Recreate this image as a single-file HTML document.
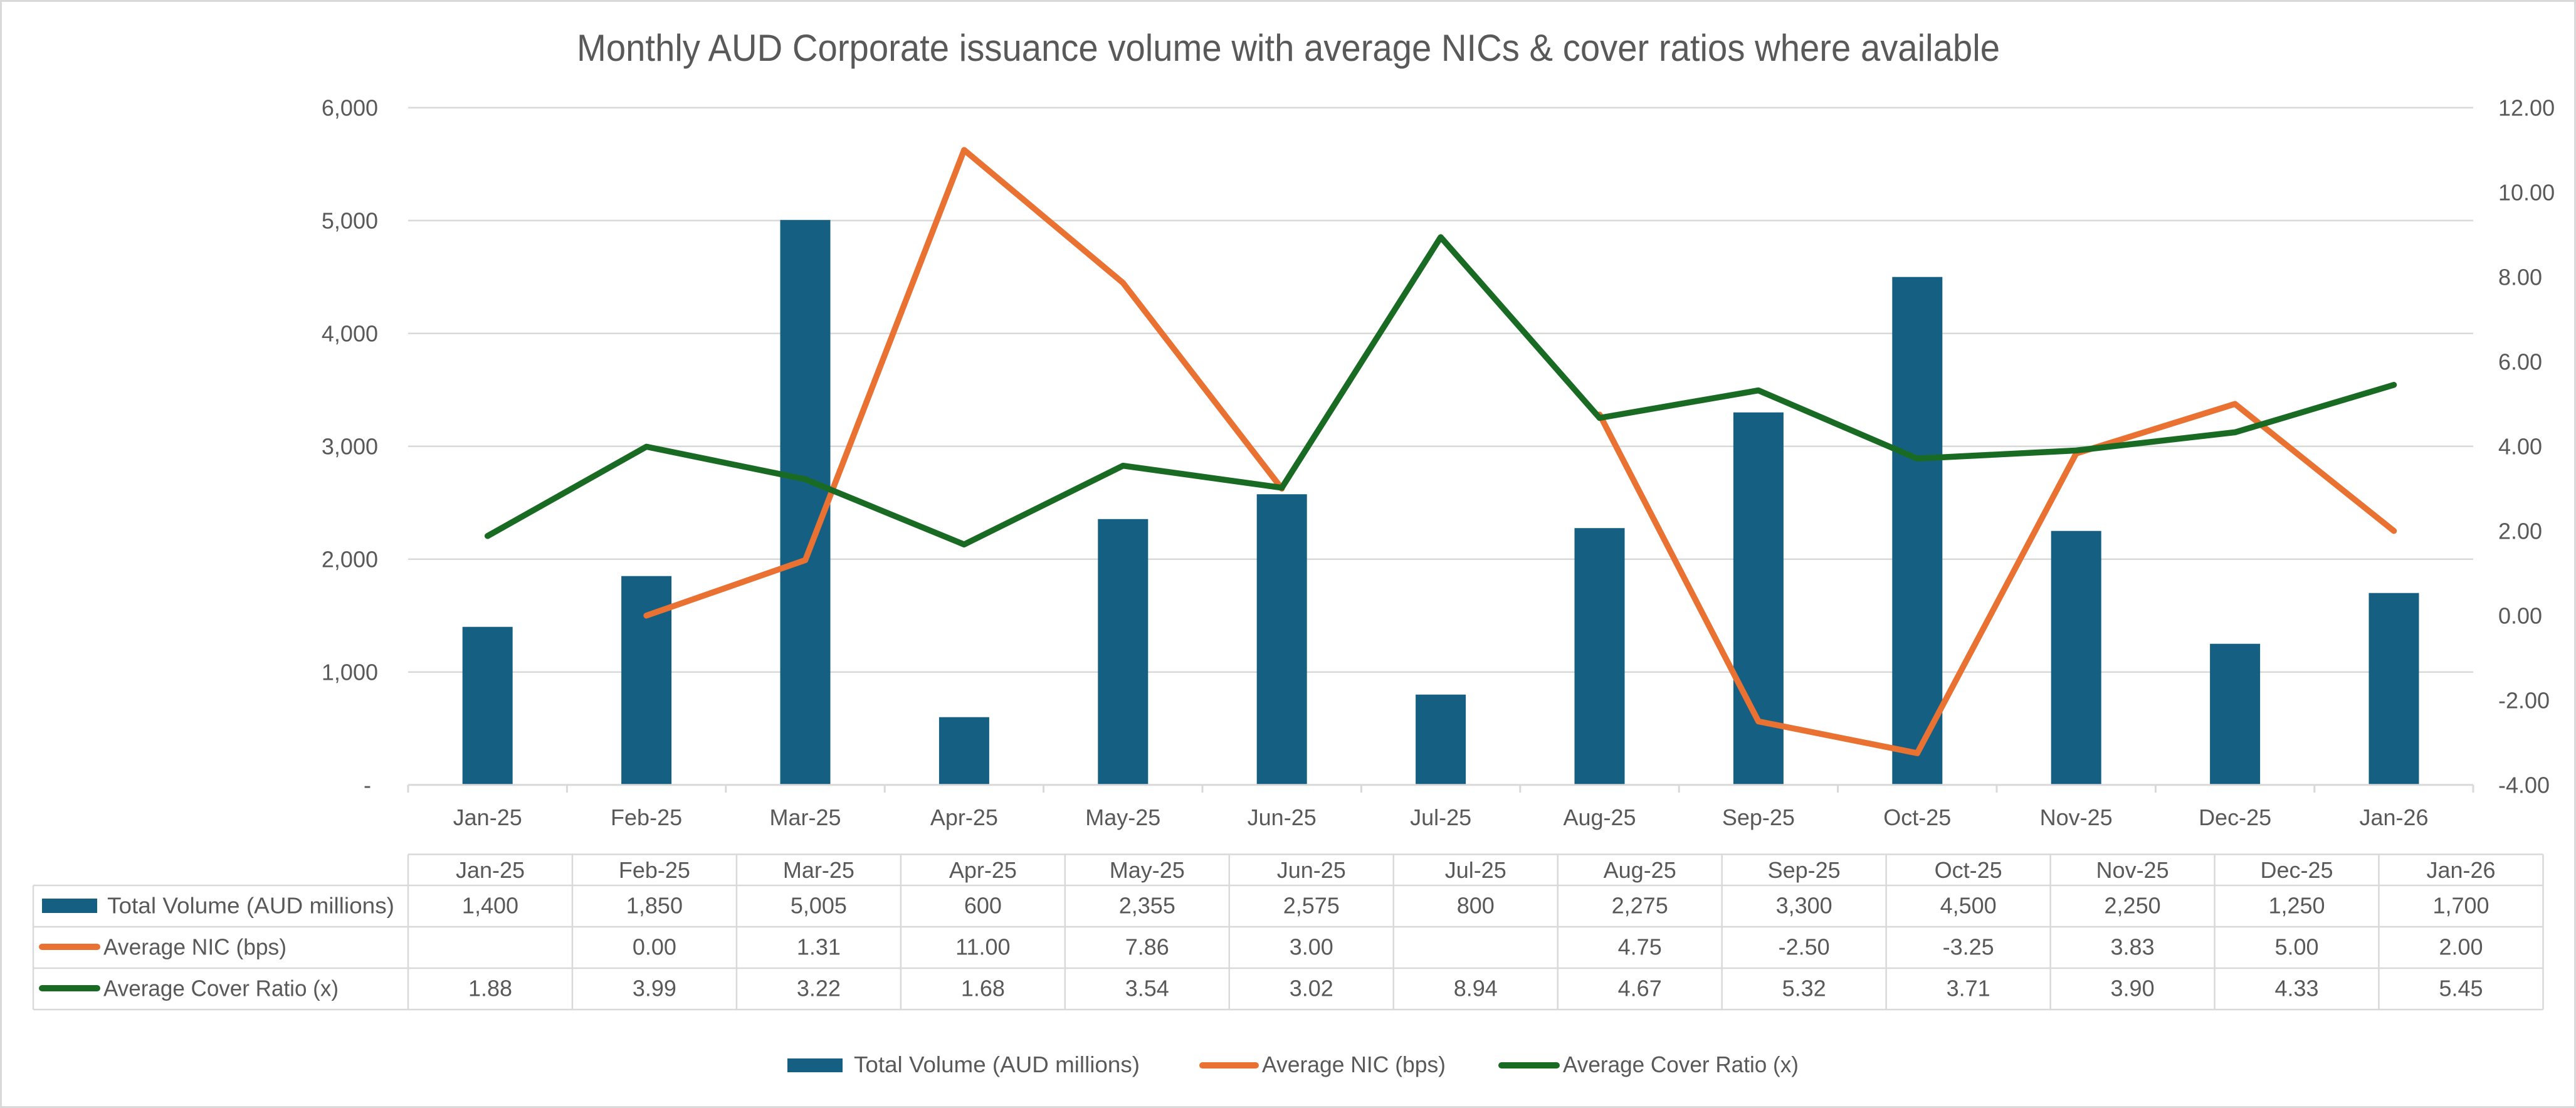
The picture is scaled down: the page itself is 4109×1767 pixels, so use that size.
<!DOCTYPE html>
<html><head><meta charset="utf-8"><style>
html,body{margin:0;padding:0;background:#fff;}
svg{display:block;}
text{font-family:"Liberation Sans",sans-serif;fill:#595959;}
</style></head><body>
<svg width="4109" height="1767" viewBox="0 0 4109 1767" xmlns="http://www.w3.org/2000/svg">
<rect x="1.5" y="1.5" width="4106" height="1764" fill="#fff" stroke="#d9d9d9" stroke-width="3"/>
<text x="2055" y="97" font-size="60" text-anchor="middle" textLength="2270" lengthAdjust="spacingAndGlyphs">Monthly AUD Corporate issuance volume with average NICs &amp; cover ratios where available</text>
<g stroke="#d9d9d9" stroke-width="2.5">
<line x1="651" y1="171.7" x2="3945" y2="171.7"/>
<line x1="651" y1="351.7" x2="3945" y2="351.7"/>
<line x1="651" y1="531.7" x2="3945" y2="531.7"/>
<line x1="651" y1="711.7" x2="3945" y2="711.7"/>
<line x1="651" y1="891.7" x2="3945" y2="891.7"/>
<line x1="651" y1="1071.7" x2="3945" y2="1071.7"/>
</g>
<g font-size="36" text-anchor="end">
<text x="603" y="184.7">6,000</text>
<text x="603" y="364.7">5,000</text>
<text x="603" y="544.7">4,000</text>
<text x="603" y="724.7">3,000</text>
<text x="603" y="904.7">2,000</text>
<text x="603" y="1084.7">1,000</text>
<text x="592" y="1264.7">-</text>
</g>
<g font-size="36">
<text x="3985" y="184.7">12.00</text>
<text x="3985" y="319.7">10.00</text>
<text x="3985" y="454.7">8.00</text>
<text x="3985" y="589.7">6.00</text>
<text x="3985" y="724.7">4.00</text>
<text x="3985" y="859.7">2.00</text>
<text x="3985" y="994.7">0.00</text>
<text x="3985" y="1129.7">-2.00</text>
<text x="3985" y="1264.7">-4.00</text>
</g>
<g fill="#156082">
<rect x="737.7" y="999.7" width="80" height="252"/>
<rect x="991.1" y="918.7" width="80" height="333"/>
<rect x="1244.5" y="350.8" width="80" height="900.9"/>
<rect x="1497.9" y="1143.7" width="80" height="108"/>
<rect x="1751.3" y="827.8" width="80" height="423.9"/>
<rect x="2004.7" y="788.2" width="80" height="463.5"/>
<rect x="2258.1" y="1107.7" width="80" height="144"/>
<rect x="2511.5" y="842.2" width="80" height="409.5"/>
<rect x="2764.9" y="657.7" width="80" height="594"/>
<rect x="3018.3" y="441.7" width="80" height="810"/>
<rect x="3271.7" y="846.7" width="80" height="405"/>
<rect x="3525.1" y="1026.7" width="80" height="225"/>
<rect x="3778.5" y="945.7" width="80" height="306"/>
</g>
<g stroke="#d9d9d9" stroke-width="3">
<line x1="651" y1="1251.7" x2="3945" y2="1251.7"/>
<line x1="651" y1="1251.7" x2="651" y2="1264"/>
<line x1="904.4" y1="1251.7" x2="904.4" y2="1264"/>
<line x1="1157.8" y1="1251.7" x2="1157.8" y2="1264"/>
<line x1="1411.2" y1="1251.7" x2="1411.2" y2="1264"/>
<line x1="1664.6" y1="1251.7" x2="1664.6" y2="1264"/>
<line x1="1918" y1="1251.7" x2="1918" y2="1264"/>
<line x1="2171.4" y1="1251.7" x2="2171.4" y2="1264"/>
<line x1="2424.8" y1="1251.7" x2="2424.8" y2="1264"/>
<line x1="2678.2" y1="1251.7" x2="2678.2" y2="1264"/>
<line x1="2931.6" y1="1251.7" x2="2931.6" y2="1264"/>
<line x1="3185" y1="1251.7" x2="3185" y2="1264"/>
<line x1="3438.4" y1="1251.7" x2="3438.4" y2="1264"/>
<line x1="3691.8" y1="1251.7" x2="3691.8" y2="1264"/>
<line x1="3945" y1="1251.7" x2="3945" y2="1264"/>
</g>
<g fill="none" stroke="#E97132" stroke-width="9.5" stroke-linejoin="round" stroke-linecap="round">
<polyline points="1031.1,981.7 1284.5,893.3 1537.9,239.2 1791.3,451.1 2044.7,779.2"/>
<polyline points="2551.5,661.1 2804.9,1150.5 3058.3,1201.1 3311.7,723.2 3565.1,644.2 3818.5,846.7"/>
</g>
<polyline fill="none" stroke="#196B24" stroke-width="9.5" stroke-linejoin="round" stroke-linecap="round" points="777.7,854.8 1031.1,712.4 1284.5,764.3 1537.9,868.3 1791.3,742.7 2044.7,777.8 2298.1,378.2 2551.5,666.5 2804.9,622.6 3058.3,731.3 3311.7,718.4 3565.1,689.4 3818.5,613.8"/>
<g font-size="36" text-anchor="middle">
<text x="777.7" y="1316">Jan-25</text>
<text x="1031.1" y="1316">Feb-25</text>
<text x="1284.5" y="1316">Mar-25</text>
<text x="1537.9" y="1316">Apr-25</text>
<text x="1791.3" y="1316">May-25</text>
<text x="2044.7" y="1316">Jun-25</text>
<text x="2298.1" y="1316">Jul-25</text>
<text x="2551.5" y="1316">Aug-25</text>
<text x="2804.9" y="1316">Sep-25</text>
<text x="3058.3" y="1316">Oct-25</text>
<text x="3311.7" y="1316">Nov-25</text>
<text x="3565.1" y="1316">Dec-25</text>
<text x="3818.5" y="1316">Jan-26</text>
</g>
<!-- table -->
<g stroke="#d9d9d9" stroke-width="2.5" fill="none">
<line x1="651" y1="1362.5" x2="4056.5" y2="1362.5"/>
<line x1="53" y1="1412" x2="4056.5" y2="1412"/>
<line x1="53" y1="1478" x2="4056.5" y2="1478"/>
<line x1="53" y1="1544" x2="4056.5" y2="1544"/>
<line x1="53" y1="1610" x2="4056.5" y2="1610"/>
<line x1="53" y1="1412" x2="53" y2="1610"/>
<line x1="651" y1="1362.5" x2="651" y2="1610"/>
<line x1="912.96" y1="1362.5" x2="912.96" y2="1610"/>
<line x1="1174.92" y1="1362.5" x2="1174.92" y2="1610"/>
<line x1="1436.88" y1="1362.5" x2="1436.88" y2="1610"/>
<line x1="1698.84" y1="1362.5" x2="1698.84" y2="1610"/>
<line x1="1960.8" y1="1362.5" x2="1960.8" y2="1610"/>
<line x1="2222.76" y1="1362.5" x2="2222.76" y2="1610"/>
<line x1="2484.72" y1="1362.5" x2="2484.72" y2="1610"/>
<line x1="2746.68" y1="1362.5" x2="2746.68" y2="1610"/>
<line x1="3008.64" y1="1362.5" x2="3008.64" y2="1610"/>
<line x1="3270.6" y1="1362.5" x2="3270.6" y2="1610"/>
<line x1="3532.56" y1="1362.5" x2="3532.56" y2="1610"/>
<line x1="3794.52" y1="1362.5" x2="3794.52" y2="1610"/>
<line x1="4056.5" y1="1362.5" x2="4056.5" y2="1610"/>
</g>
<rect x="67" y="1433" width="88" height="23" fill="#156082"/>
<line x1="67" y1="1510" x2="155" y2="1510" stroke="#E97132" stroke-width="10" stroke-linecap="round"/>
<line x1="67" y1="1576" x2="155" y2="1576" stroke="#196B24" stroke-width="10" stroke-linecap="round"/>
<g font-size="36">
<text x="171" y="1456.5" textLength="458" lengthAdjust="spacingAndGlyphs">Total Volume (AUD millions)</text>
<text x="165" y="1522.5" textLength="292" lengthAdjust="spacingAndGlyphs">Average NIC (bps)</text>
<text x="165" y="1588.5" textLength="375" lengthAdjust="spacingAndGlyphs">Average Cover Ratio (x)</text>
</g>
<g font-size="36" text-anchor="middle">
<text x="781.98" y="1400">Jan-25</text><text x="1043.94" y="1400">Feb-25</text><text x="1305.9" y="1400">Mar-25</text><text x="1567.86" y="1400">Apr-25</text><text x="1829.82" y="1400">May-25</text><text x="2091.78" y="1400">Jun-25</text><text x="2353.74" y="1400">Jul-25</text><text x="2615.7" y="1400">Aug-25</text><text x="2877.66" y="1400">Sep-25</text><text x="3139.62" y="1400">Oct-25</text><text x="3401.58" y="1400">Nov-25</text><text x="3663.54" y="1400">Dec-25</text><text x="3925.5" y="1400">Jan-26</text>
<text x="781.98" y="1456.5">1,400</text><text x="1043.94" y="1456.5">1,850</text><text x="1305.9" y="1456.5">5,005</text><text x="1567.86" y="1456.5">600</text><text x="1829.82" y="1456.5">2,355</text><text x="2091.78" y="1456.5">2,575</text><text x="2353.74" y="1456.5">800</text><text x="2615.7" y="1456.5">2,275</text><text x="2877.66" y="1456.5">3,300</text><text x="3139.62" y="1456.5">4,500</text><text x="3401.58" y="1456.5">2,250</text><text x="3663.54" y="1456.5">1,250</text><text x="3925.5" y="1456.5">1,700</text>
<text x="1043.94" y="1522.5">0.00</text><text x="1305.9" y="1522.5">1.31</text><text x="1567.86" y="1522.5">11.00</text><text x="1829.82" y="1522.5">7.86</text><text x="2091.78" y="1522.5">3.00</text><text x="2615.7" y="1522.5">4.75</text><text x="2877.66" y="1522.5">-2.50</text><text x="3139.62" y="1522.5">-3.25</text><text x="3401.58" y="1522.5">3.83</text><text x="3663.54" y="1522.5">5.00</text><text x="3925.5" y="1522.5">2.00</text>
<text x="781.98" y="1588.5">1.88</text><text x="1043.94" y="1588.5">3.99</text><text x="1305.9" y="1588.5">3.22</text><text x="1567.86" y="1588.5">1.68</text><text x="1829.82" y="1588.5">3.54</text><text x="2091.78" y="1588.5">3.02</text><text x="2353.74" y="1588.5">8.94</text><text x="2615.7" y="1588.5">4.67</text><text x="2877.66" y="1588.5">5.32</text><text x="3139.62" y="1588.5">3.71</text><text x="3401.58" y="1588.5">3.90</text><text x="3663.54" y="1588.5">4.33</text><text x="3925.5" y="1588.5">5.45</text>
</g>
<!-- legend -->
<rect x="1256" y="1688" width="88" height="22" fill="#156082"/>
<line x1="1918" y1="1699" x2="2003" y2="1699" stroke="#E97132" stroke-width="10" stroke-linecap="round"/>
<line x1="2395" y1="1699" x2="2483" y2="1699" stroke="#196B24" stroke-width="10" stroke-linecap="round"/>
<g font-size="36">
<text x="1362" y="1710" textLength="456" lengthAdjust="spacingAndGlyphs">Total Volume (AUD millions)</text>
<text x="2013" y="1710" textLength="293" lengthAdjust="spacingAndGlyphs">Average NIC (bps)</text>
<text x="2493" y="1710" textLength="376" lengthAdjust="spacingAndGlyphs">Average Cover Ratio (x)</text>
</g>
</svg>
</body></html>
